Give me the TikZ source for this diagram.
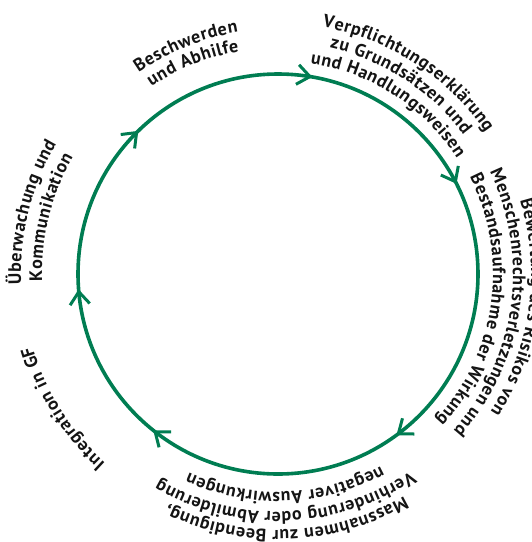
\documentclass[tikz,border=0pt]{standalone}
\usepackage{fontspec}
\setmainfont{PT Sans}
\usetikzlibrary{decorations.text}
\definecolor{cgreen}{RGB}{0,125,82}
\newcommand\lblfont{\fontsize{18}{19}\selectfont\bfseries}
\tikzset{
  ring/.style={draw=cgreen, line width=3.6pt},
  chev/.style={draw=cgreen, line width=3pt},
}
\newcommand\arctext[3]{%
  \path[decorate, decoration={text effects along path, text={#3}, text align=center,
      text effects/.cd, characters={transform shape, anchor=base, font=\lblfont, inner sep=0pt, text=black!92},
      character widths={font=\lblfont, inner xsep=0.3pt, inner ysep=0pt}}]
    (C) ++(#1+70:#2 pt) arc[start angle=#1+70, end angle=#1-70, radius=#2 pt];
}
\begin{document}
\begin{tikzpicture}[x=1pt,y=1pt]
\useasboundingbox (0,0) rectangle (532,-542);
\clip (0,0) rectangle (532,-542);
\coordinate (C) at (278,-274);
\draw[ring] (C) circle[radius=200pt];
\foreach \a/\n in {80.8/a,27.5/b,-53/c,232.1/d,185.1/e,135/f}{
  \path (C) ++(\a:200pt) coordinate (t\n);
  \draw[chev] (t\n) ++(\a+90-38:16pt) -- (t\n) -- ++(\a+90+38:16pt);
}
% labels
\arctext{112}{245}{Beschwerden}
\arctext{112}{226}{und Abhilfe}
\arctext{57}{251}{Verpflichtungserklärung}
\arctext{57}{232}{zu Grundsätzen und}
\arctext{57}{213}{und Handlungsweisen}
\arctext{-8}{253}{Bewertung des Risikos von}
\arctext{-8}{235}{Menschenrechtsverletzungen und}
\arctext{-8}{215}{Bestandsaufnahme der Wirkung}
\arctext{-88}{256}{Massnahmen zur Beendigung,}
\arctext{-88}{238}{Verhinderung oder Abmilderung}
\arctext{-88}{218}{negativer Auswirkungen}
\arctext{212}{256}{Integration in GF}
\arctext{166}{257}{Überwachung und}
\arctext{166}{236}{Kommunikation}
\end{tikzpicture}
\end{document}
